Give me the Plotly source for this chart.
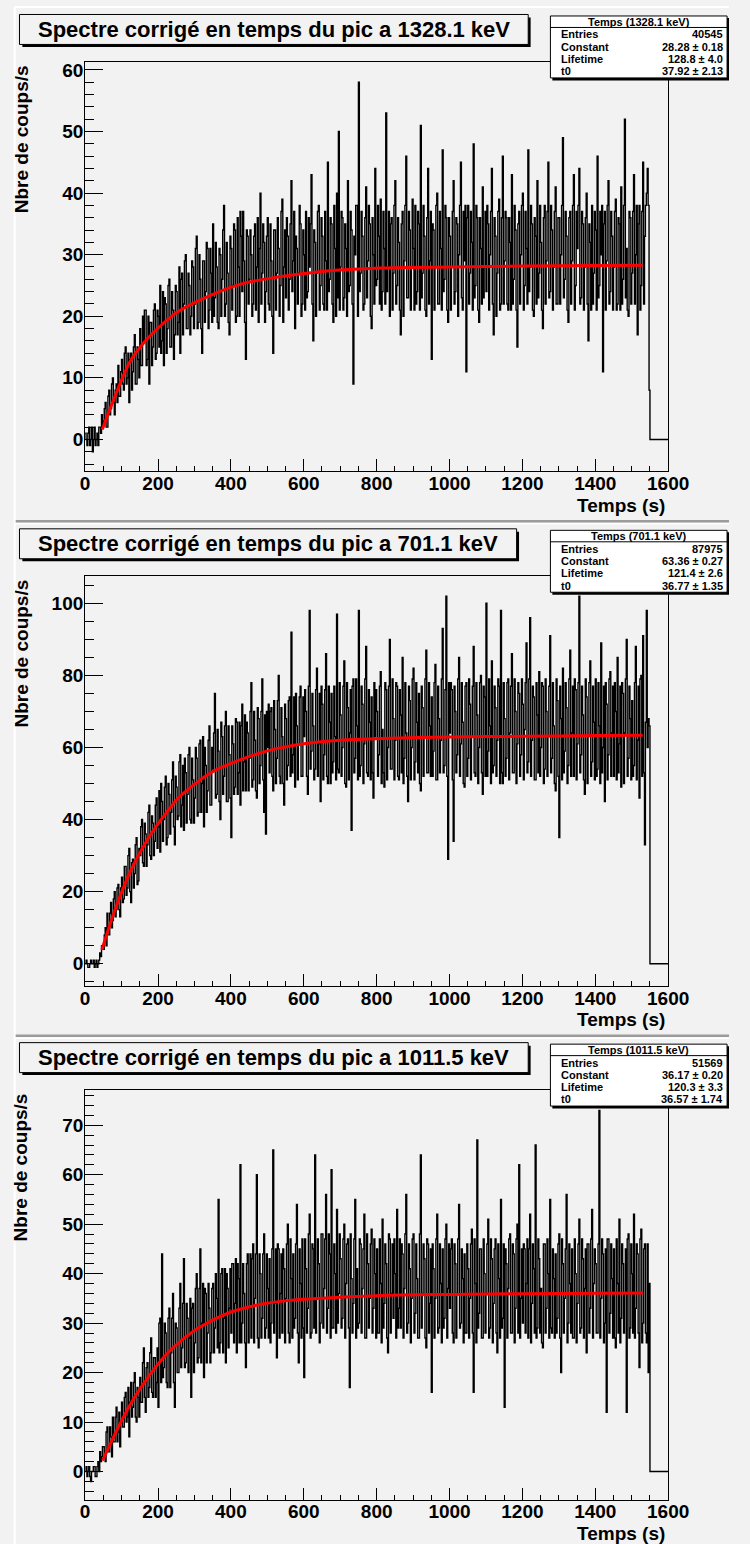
import numpy as np
import plotly.graph_objects as go

# ---------------- data ----------------
BIN_WIDTH = 2.5        # s per drawn bin
X_MAX = 1600

TITLES = ["Spectre corrigé en temps du pic a 1328.1 keV",
          "Spectre corrigé en temps du pic a 701.1 keV",
          "Spectre corrigé en temps du pic a 1011.5 keV"]
STAT_NAMES = ["Temps (1328.1 keV)", "Temps (701.1 keV)", "Temps (1011.5 keV)"]
STAT_LABELS = ["Entries", "Constant", "Lifetime", "t0"]
ENTRIES = ["40545", "87975", "51569"]
CONSTANT = ["28.28 ± 0.18", "63.36 ± 0.27", "36.17 ± 0.20"]
LIFETIME = ["128.8 ± 4.0", "121.4 ± 2.6", "120.3 ± 3.3"]
T0 = ["37.92 ± 2.13", "36.77 ± 1.35", "36.57 ± 1.74"]
X_TITLE = "Temps (s)"
Y_TITLE = "Nbre de coups/s"

# counts per 2.5 s bin, 0 .. 1550 s (20 bins per row = 50 s), then empty bins to 1600 s
COUNTS_1328 = [
    1, 0, -1, 1, 2, -1, 0, 2, -2, 0, 2, -1, 0, 1, -1, 2, 2, 1, 4, 2,
    3, 5, 6, 2, 2, 7, 8, 4, 5, 9, 10, 6, 4, 8, 9, 6, 12, 7, 7, 11,
    13, 9, 8, 14, 15, 9, 10, 14, 6, 13, 14, 8, 11, 15, 17, 9, 9, 15, 13, 10,
    18, 12, 12, 20, 16, 21, 21, 12, 13, 20, 9, 19, 19, 12, 15, 21, 22, 13, 14, 21,
    20, 15, 25, 14, 16, 24, 12, 23, 22, 14, 18, 25, 26, 15, 15, 24, 21, 13, 17, 25,
    24, 17, 19, 28, 14, 26, 27, 17, 22, 29, 30, 18, 18, 27, 25, 17, 20, 29, 28, 18,
    22, 31, 33, 18, 19, 30, 26, 18, 14, 29, 29, 19, 24, 32, 31, 18, 21, 31, 27, 19,
    35, 20, 23, 32, 28, 19, 18, 31, 30, 20, 26, 34, 38, 20, 22, 32, 27, 19, 17, 33,
    31, 21, 25, 35, 34, 19, 20, 36, 28, 20, 37, 33, 24, 37, 29, 19, 13, 34, 33, 22,
    26, 34, 30, 20, 22, 33, 35, 21, 28, 36, 19, 31, 40, 22, 27, 35, 32, 19, 24, 33,
    36, 22, 21, 35, 29, 20, 14, 34, 34, 21, 27, 36, 31, 20, 25, 37, 39, 19, 28, 34,
    23, 36, 33, 21, 26, 35, 42, 24, 29, 37, 18, 33, 31, 22, 27, 38, 35, 20, 22, 34,
    30, 21, 37, 23, 24, 36, 28, 35, 43, 22, 16, 34, 32, 20, 27, 37, 38, 21, 25, 36,
    33, 22, 21, 37, 29, 21, 45, 24, 26, 36, 35, 22, 19, 38, 31, 20, 40, 23, 50, 21,
    28, 37, 36, 21, 23, 35, 31, 20, 42, 24, 25, 37, 34, 22, 9, 33, 30, 38, 38, 20,
    58, 24, 27, 37, 33, 21, 22, 36, 41, 23, 29, 38, 35, 20, 18, 36, 30, 22, 44, 25,
    26, 38, 33, 22, 39, 21, 24, 37, 31, 22, 53, 24, 28, 37, 20, 35, 36, 21, 27, 38,
    42, 22, 25, 36, 32, 21, 17, 35, 37, 20, 29, 38, 46, 23, 23, 37, 34, 21, 28, 39,
    31, 21, 38, 22, 24, 37, 35, 21, 51, 23, 27, 38, 33, 21, 20, 36, 44, 22, 29, 37,
    13, 35, 34, 21, 28, 38, 40, 22, 22, 37, 31, 21, 47, 24, 26, 38, 36, 21, 19, 36,
    33, 21, 28, 37, 42, 22, 24, 36, 35, 20, 30, 38, 45, 23, 21, 37, 29, 38, 11, 36,
    38, 22, 27, 37, 32, 21, 48, 23, 25, 38, 36, 21, 19, 36, 31, 22, 41, 23, 28, 37,
    24, 38, 35, 21, 30, 37, 44, 22, 17, 36, 33, 20, 27, 37, 39, 21, 22, 36, 46, 22,
    29, 37, 36, 22, 21, 36, 32, 21, 43, 22, 26, 38, 34, 21, 15, 35, 37, 22, 30, 38,
    40, 21, 25, 37, 31, 22, 47, 24, 28, 38, 35, 21, 20, 36, 33, 22, 42, 23, 27, 38,
    32, 21, 18, 36, 38, 22, 29, 37, 45, 23, 24, 38, 34, 21, 28, 37, 41, 22, 22, 36,
    36, 22, 30, 38, 49, 23, 26, 37, 33, 21, 19, 36, 37, 22, 29, 38, 43, 21, 25, 37,
    31, 38, 44, 22, 23, 37, 35, 21, 28, 36, 40, 22, 16, 35, 32, 21, 38, 22, 27, 37,
    34, 21, 46, 23, 25, 37, 30, 38, 11, 35, 37, 21, 29, 38, 42, 22, 24, 37, 33, 21,
    28, 37, 39, 21, 22, 36, 35, 21, 41, 22, 26, 38, 52, 23, 31, 21, 20, 37, 36, 22,
    27, 37, 43, 22, 30, 38, 17, 35, 38, 21, 25, 37, 45, 22, 33, 38, 40, 44, 38, 8,
    0, 0, 0, 0, 0, 0, 0, 0, 0, 0, 0, 0, 0, 0, 0, 0, 0, 0, 0, 0]

COUNTS_701 = [
    0, 1, 0, -1, -1, 0, 1, 0, 0, 1, -1, 0, 1, -1, 0, 1, 3, 2, 5, 4,
    4, 8, 10, 5, 14, 8, 8, 14, 17, 10, 12, 18, 20, 13, 15, 21, 22, 15, 13, 21,
    24, 17, 18, 27, 27, 19, 21, 30, 32, 20, 17, 28, 29, 21, 25, 33, 35, 22, 23, 32,
    30, 38, 40, 28, 27, 39, 36, 27, 33, 42, 44, 30, 29, 41, 39, 30, 34, 44, 46, 32,
    38, 48, 31, 50, 45, 34, 40, 49, 52, 33, 35, 50, 47, 36, 42, 51, 56, 38, 33, 52,
    49, 40, 41, 56, 58, 38, 44, 55, 37, 57, 53, 39, 47, 58, 60, 40, 39, 57, 51, 39,
    46, 60, 57, 41, 42, 61, 62, 42, 50, 63, 38, 60, 55, 42, 48, 62, 66, 44, 44, 60,
    54, 64, 75, 46, 47, 65, 59, 45, 40, 67, 63, 47, 52, 66, 70, 45, 45, 66, 58, 46,
    35, 66, 61, 47, 49, 68, 67, 47, 53, 67, 44, 66, 72, 48, 56, 69, 48, 67, 64, 48,
    57, 70, 78, 49, 51, 70, 62, 48, 46, 71, 68, 50, 55, 70, 79, 51, 42, 69, 36, 70,
    60, 72, 53, 70, 71, 52, 48, 73, 65, 50, 57, 73, 80, 52, 50, 71, 63, 50, 44, 72,
    68, 51, 55, 73, 74, 52, 92, 53, 58, 74, 49, 75, 66, 51, 61, 74, 77, 52, 52, 74,
    63, 76, 70, 52, 47, 77, 98, 54, 59, 75, 66, 51, 54, 76, 82, 52, 61, 75, 45, 77,
    72, 51, 58, 76, 86, 52, 50, 77, 67, 50, 75, 53, 56, 77, 63, 51, 97, 54, 53, 78,
    69, 52, 60, 77, 84, 50, 49, 78, 71, 51, 64, 76, 37, 77, 79, 53, 57, 79, 66, 51,
    98, 52, 55, 77, 72, 50, 61, 79, 88, 53, 52, 76, 67, 51, 74, 53, 46, 78, 63, 76,
    70, 52, 58, 77, 81, 50, 65, 53, 49, 78, 76, 51, 60, 77, 90, 54, 54, 79, 68, 51,
    62, 78, 77, 52, 51, 76, 69, 53, 85, 50, 57, 78, 64, 52, 45, 77, 73, 51, 60, 79,
    82, 51, 56, 78, 67, 53, 75, 50, 48, 77, 71, 52, 63, 79, 87, 53, 53, 78, 66, 52,
    74, 52, 59, 78, 83, 51, 51, 77, 68, 53, 62, 79, 93, 53, 55, 76, 102, 52, 29, 78,
    64, 78, 76, 51, 34, 77, 70, 53, 58, 79, 85, 52, 61, 78, 67, 50, 49, 77, 78, 52,
    57, 79, 72, 51, 63, 77, 88, 53, 52, 78, 69, 50, 60, 78, 80, 53, 47, 77, 74, 52,
    100, 52, 59, 79, 66, 50, 84, 53, 55, 77, 71, 52, 62, 79, 77, 50, 98, 53, 50, 78,
    68, 52, 57, 78, 79, 51, 64, 77, 86, 53, 53, 79, 70, 50, 61, 78, 75, 52, 58, 79,
    72, 51, 65, 78, 89, 53, 56, 79, 96, 52, 62, 77, 74, 51, 51, 78, 69, 53, 81, 52,
    60, 78, 77, 50, 54, 79, 70, 52, 63, 77, 91, 53, 57, 78, 66, 50, 48, 79, 73, 52,
    35, 77, 68, 51, 82, 53, 59, 78, 71, 50, 55, 79, 87, 52, 64, 77, 52, 79, 76, 51,
    61, 78, 102, 53, 58, 77, 69, 51, 47, 79, 74, 50, 63, 78, 84, 52, 56, 77, 67, 51,
    79, 52, 54, 78, 66, 50, 89, 53, 60, 77, 45, 78, 72, 51, 58, 79, 81, 52, 64, 77,
    52, 78, 70, 51, 85, 53, 61, 77, 49, 78, 75, 50, 64, 79, 90, 52, 57, 77, 68, 51,
    73, 52, 55, 78, 88, 51, 62, 77, 46, 79, 80, 52, 91, 53, 33, 67, 98, 60, 68, 66,
    0, 0, 0, 0, 0, 0, 0, 0, 0, 0, 0, 0, 0, 0, 0, 0, 0, 0, 0, 0]

COUNTS_1011 = [
    0, 1, -1, 0, 1, -1, -2, 0, 0, 1, 1, -1, -1, 1, 2, 0, 4, 2, 3, 5,
    5, 3, 2, 8, 9, 4, 4, 9, 7, 3, 11, 6, 6, 11, 13, 6, 8, 12, 5, 10,
    14, 9, 9, 15, 16, 10, 11, 17, 7, 14, 18, 11, 13, 18, 20, 11, 10, 17, 15, 11,
    19, 14, 14, 22, 25, 15, 12, 21, 22, 15, 17, 24, 27, 16, 15, 23, 23, 15, 18, 25,
    13, 30, 31, 18, 44, 19, 21, 30, 28, 18, 17, 31, 33, 17, 24, 31, 36, 18, 13, 30,
    29, 20, 20, 33, 38, 21, 25, 34, 43, 21, 22, 34, 31, 20, 27, 35, 15, 33, 34, 20,
    26, 37, 40, 22, 23, 37, 45, 22, 30, 38, 19, 37, 36, 22, 28, 38, 33, 22, 24, 37,
    38, 24, 29, 40, 35, 25, 55, 24, 26, 40, 41, 24, 31, 41, 22, 40, 37, 25, 33, 41,
    28, 42, 42, 26, 34, 43, 24, 42, 39, 26, 62, 26, 30, 42, 36, 26, 21, 42, 44, 26,
    33, 44, 27, 43, 46, 26, 35, 44, 60, 27, 25, 44, 40, 27, 31, 44, 48, 27, 29, 44,
    37, 27, 43, 26, 30, 45, 65, 28, 34, 45, 23, 46, 45, 27, 36, 44, 28, 45, 41, 26,
    35, 46, 50, 28, 26, 47, 39, 27, 44, 29, 31, 46, 54, 28, 22, 45, 38, 27, 47, 29,
    19, 47, 41, 28, 33, 48, 52, 27, 28, 46, 45, 29, 64, 28, 35, 47, 42, 26, 30, 48,
    48, 29, 37, 47, 56, 28, 33, 48, 44, 27, 61, 29, 29, 46, 40, 28, 53, 30, 36, 48,
    43, 29, 31, 47, 50, 27, 38, 46, 47, 29, 17, 48, 39, 28, 34, 47, 55, 27, 41, 29,
    30, 47, 46, 28, 37, 45, 52, 27, 27, 48, 42, 29, 35, 46, 49, 28, 33, 47, 40, 27,
    45, 28, 28, 47, 38, 26, 51, 29, 34, 46, 42, 27, 24, 48, 47, 28, 36, 46, 31, 47,
    40, 27, 53, 29, 33, 47, 29, 46, 44, 27, 37, 48, 56, 28, 30, 46, 41, 26, 35, 47,
    48, 28, 32, 46, 39, 27, 27, 48, 64, 29, 36, 46, 43, 27, 25, 47, 46, 28, 34, 45,
    16, 46, 41, 27, 35, 47, 52, 28, 29, 46, 38, 26, 45, 29, 31, 47, 50, 27, 37, 46,
    33, 45, 47, 28, 26, 46, 42, 27, 36, 47, 54, 29, 30, 45, 39, 26, 44, 28, 28, 46,
    41, 27, 35, 46, 49, 28, 16, 47, 38, 26, 67, 29, 32, 45, 45, 27, 27, 47, 40, 28,
    36, 46, 51, 27, 29, 47, 43, 26, 34, 45, 47, 28, 24, 46, 39, 27, 55, 29, 31, 46,
    13, 45, 42, 27, 37, 47, 48, 28, 28, 46, 44, 26, 33, 47, 50, 28, 62, 27, 35, 45,
    30, 46, 45, 28, 38, 47, 27, 45, 52, 26, 34, 46, 41, 28, 66, 27, 29, 47, 43, 28,
    37, 26, 25, 46, 46, 28, 33, 47, 40, 27, 55, 29, 28, 45, 39, 27, 44, 28, 31, 46,
    48, 27, 20, 47, 42, 28, 35, 45, 56, 26, 30, 46, 38, 28, 45, 27, 27, 47, 40, 26,
    34, 46, 51, 28, 29, 47, 43, 27, 37, 45, 24, 46, 46, 28, 33, 47, 53, 27, 38, 45,
    42, 28, 28, 46, 73, 27, 35, 47, 44, 26, 30, 45, 12, 47, 47, 28, 32, 46, 39, 27,
    45, 27, 25, 47, 38, 28, 51, 26, 31, 46, 42, 28, 36, 45, 12, 47, 48, 27, 29, 46,
    40, 28, 52, 27, 33, 46, 44, 28, 21, 47, 49, 26, 30, 45, 46, 28, 26, 46, 20, 38,
    0, 0, 0, 0, 0, 0, 0, 0, 0, 0, 0, 0, 0, 0, 0, 0, 0, 0, 0, 0]

# fitted curve, points
FIT_T_1328 = [47, 80, 123, 167, 208, 256, 344, 432, 520, 608, 696, 810, 1000, 1200, 1400, 1530]
FIT_V_1328 = [1.6, 6.7, 12.6, 16.1, 18.5, 20.8, 23.4, 25.3, 26.3, 27.0, 27.5, 27.85, 28.0, 28.15, 28.25, 28.3]
FIT_T_701 = [46, 81, 125, 169, 213, 257, 345, 434, 522, 610, 698, 813, 1000, 1200, 1400, 1530]
FIT_V_701 = [3.9, 14.7, 25.8, 34.1, 40.6, 46.1, 53.0, 56.9, 59.6, 61.2, 62.0, 62.5, 62.9, 63.1, 63.3, 63.4]
FIT_T_1011 = [48, 90, 134, 178, 222, 266, 311, 399, 487, 575, 663, 813, 1000, 1200, 1400, 1531]
FIT_V_1011 = [2.2, 8.8, 14.8, 19.6, 23.6, 26.6, 29.0, 32.2, 33.85, 34.7, 35.1, 35.6, 35.8, 35.95, 36.05, 36.1]

X_TICKS = [0, 200, 400, 600, 800, 1000, 1200, 1400, 1600]

PANELS = [
    dict(counts=COUNTS_1328, ft=FIT_T_1328, fv=FIT_V_1328, yr=(-5.19, 61.3), dt=10, mdt=2, tw=527),
    dict(counts=COUNTS_701, ft=FIT_T_701, fv=FIT_V_701, yr=(-6.1, 107.5), dt=20, mdt=5, tw=515),
    dict(counts=COUNTS_1011, ft=FIT_T_1011, fv=FIT_V_1011, yr=(-5.66, 77.1), dt=10, mdt=2, tw=527),
]

# ---------------- layout helpers (pixels -> paper) ----------------
W, H = 750, 1544
OFF = [0, 515, 1029.5]
FRAME_L, FRAME_R = 83, 687
FRAME_T, FRAME_B = 60, 470
BG = "#f2f2f2"
FONT = "Liberation Sans, Arial, Helvetica, sans-serif"


def px(x):
    return x / W


def py(y):
    return 1 - y / H


fig = go.Figure()
shapes = []
annotations = []

for k, p in enumerate(PANELS):
    o = OFF[k]
    xa = "x" if k == 0 else f"x{k+1}"
    ya = "y" if k == 0 else f"y{k+1}"
    counts = list(p["counts"])
    edges = list(np.arange(len(counts) + 1) * BIN_WIDTH)
    fig.add_trace(go.Scatter(x=edges, y=counts + [counts[-1]], mode="lines",
                             line=dict(color="black", width=1.4, shape="hv"),
                             xaxis=xa, yaxis=ya, showlegend=False, hoverinfo="skip"))
    fig.add_trace(go.Scatter(x=p["ft"], y=p["fv"], mode="lines",
                             line=dict(color="#ff0000", width=3, shape="spline", smoothing=0.8),
                             xaxis=xa, yaxis=ya, showlegend=False, hoverinfo="skip"))

    axis_common = dict(showgrid=False, zeroline=False, showline=True, linecolor="black",
                       linewidth=1, mirror=True, ticks="inside", tickcolor="black",
                       tickfont=dict(family=FONT, size=19, color="black", weight="bold"))
    fig.update_layout(**{
        ("xaxis" if k == 0 else f"xaxis{k+1}"): dict(
            axis_common, domain=[px(FRAME_L), px(FRAME_R)], range=[0, X_MAX],
            anchor=ya, tickvals=X_TICKS, ticklen=12, tickwidth=1, ticklabelstandoff=-5,
            minor=dict(dtick=50, tick0=0, ticklen=5, ticks="inside", tickcolor="black")),
        ("yaxis" if k == 0 else f"yaxis{k+1}"): dict(
            axis_common, domain=[py(o + FRAME_B), py(o + FRAME_T)], range=list(p["yr"]),
            anchor=xa, dtick=p["dt"], tick0=0, ticklen=18, tickwidth=1, ticklabelstandoff=-3,
            minor=dict(dtick=p["mdt"], tick0=0, ticklen=9, ticks="inside", tickcolor="black")),
    })

    # title box with shadow
    tx0, tx1, ty0, ty1 = 15, 15 + p["tw"], o + 12.5, o + 42.5
    shapes.append(dict(type="rect", xref="paper", yref="paper", x0=px(tx0 + 3), x1=px(tx1 + 2.5),
                       y0=py(ty1 + 2.5), y1=py(ty0 + 3), fillcolor="black", line=dict(width=0), layer="above"))
    shapes.append(dict(type="rect", xref="paper", yref="paper", x0=px(tx0), x1=px(tx1),
                       y0=py(ty1), y1=py(ty0), fillcolor=BG, line=dict(color="black", width=1), layer="above"))
    annotations.append(dict(text=TITLES[k], xref="paper", yref="paper", x=px((tx0 + tx1) / 2),
                            y=py((ty0 + ty1) / 2), xanchor="center", yanchor="middle", showarrow=False,
                            font=dict(family=FONT, size=22, color="black", weight="bold")))

    # stats box with shadow
    sx0, sx1, sy0, sy1 = 565, 748, o + 14, o + 76
    shapes.append(dict(type="rect", xref="paper", yref="paper", x0=px(sx0 + 2), x1=px(sx1 + 2),
                       y0=py(sy1 + 2.5), y1=py(sy0 + 2), fillcolor="black", line=dict(width=0), layer="above"))
    shapes.append(dict(type="rect", xref="paper", yref="paper", x0=px(sx0), x1=px(sx1),
                       y0=py(sy1), y1=py(sy0), fillcolor="white", line=dict(color="black", width=1), layer="above"))
    shapes.append(dict(type="line", xref="paper", yref="paper", x0=px(sx0), x1=px(sx1),
                       y0=py(o + 25.5), y1=py(o + 25.5), line=dict(color="black", width=1), layer="above"))
    sfont = dict(family=FONT, size=11, color="black", weight="bold")
    annotations.append(dict(text=STAT_NAMES[k], xref="paper", yref="paper", x=px((sx0 + sx1) / 2),
                            y=py(o + 20), xanchor="center", yanchor="middle", showarrow=False, font=sfont))
    vals = [ENTRIES[k], CONSTANT[k], LIFETIME[k], T0[k]]
    for r, (lab, val) in enumerate(zip(STAT_LABELS, vals)):
        yy = py(o + 32.5 + 12.3 * r)
        annotations.append(dict(text=lab, xref="paper", yref="paper", x=px(574), y=yy,
                                xanchor="left", yanchor="middle", showarrow=False, font=sfont))
        annotations.append(dict(text=val, xref="paper", yref="paper", x=px(746), y=yy,
                                xanchor="right", yanchor="middle", showarrow=False, font=sfont))

    # axis titles
    annotations.append(dict(text=X_TITLE, xref="paper", yref="paper", x=px(686), y=py(o + 504),
                            xanchor="right", yanchor="middle", showarrow=False,
                            font=dict(family=FONT, size=19, color="black", weight="bold")))
    annotations.append(dict(text=Y_TITLE, xref="paper", yref="paper", x=px(17), y=py(o + 137),
                            xanchor="center", yanchor="middle", textangle=-90, showarrow=False,
                            font=dict(family=FONT, size=19, color="black", weight="bold")))

# pad bevels
for yy in (520, 1035):
    shapes.append(dict(type="line", xref="paper", yref="paper", x0=px(10), x1=px(750),
                       y0=py(yy), y1=py(yy), line=dict(color="#9c9c9c", width=2.5), layer="above"))
    shapes.append(dict(type="line", xref="paper", yref="paper", x0=px(10), x1=px(750),
                       y0=py(yy + 2.5), y1=py(yy + 2.5), line=dict(color="white", width=1.5), layer="above"))
shapes.append(dict(type="line", xref="paper", yref="paper", x0=px(10), x1=px(10),
                   y0=py(1544), y1=py(5), line=dict(color="white", width=2), layer="above"))
shapes.append(dict(type="line", xref="paper", yref="paper", x0=px(10), x1=px(750),
                   y0=py(5), y1=py(5), line=dict(color="white", width=2), layer="above"))

fig.update_layout(width=W, height=H, margin=dict(l=0, r=0, t=0, b=0),
                  paper_bgcolor=BG, plot_bgcolor=BG, shapes=shapes, annotations=annotations,
                  showlegend=False)

fig.write_html("out.html", config={"displayModeBar": False},
               post_script="document.body.style.margin='0';document.body.style.overflow='hidden';")
